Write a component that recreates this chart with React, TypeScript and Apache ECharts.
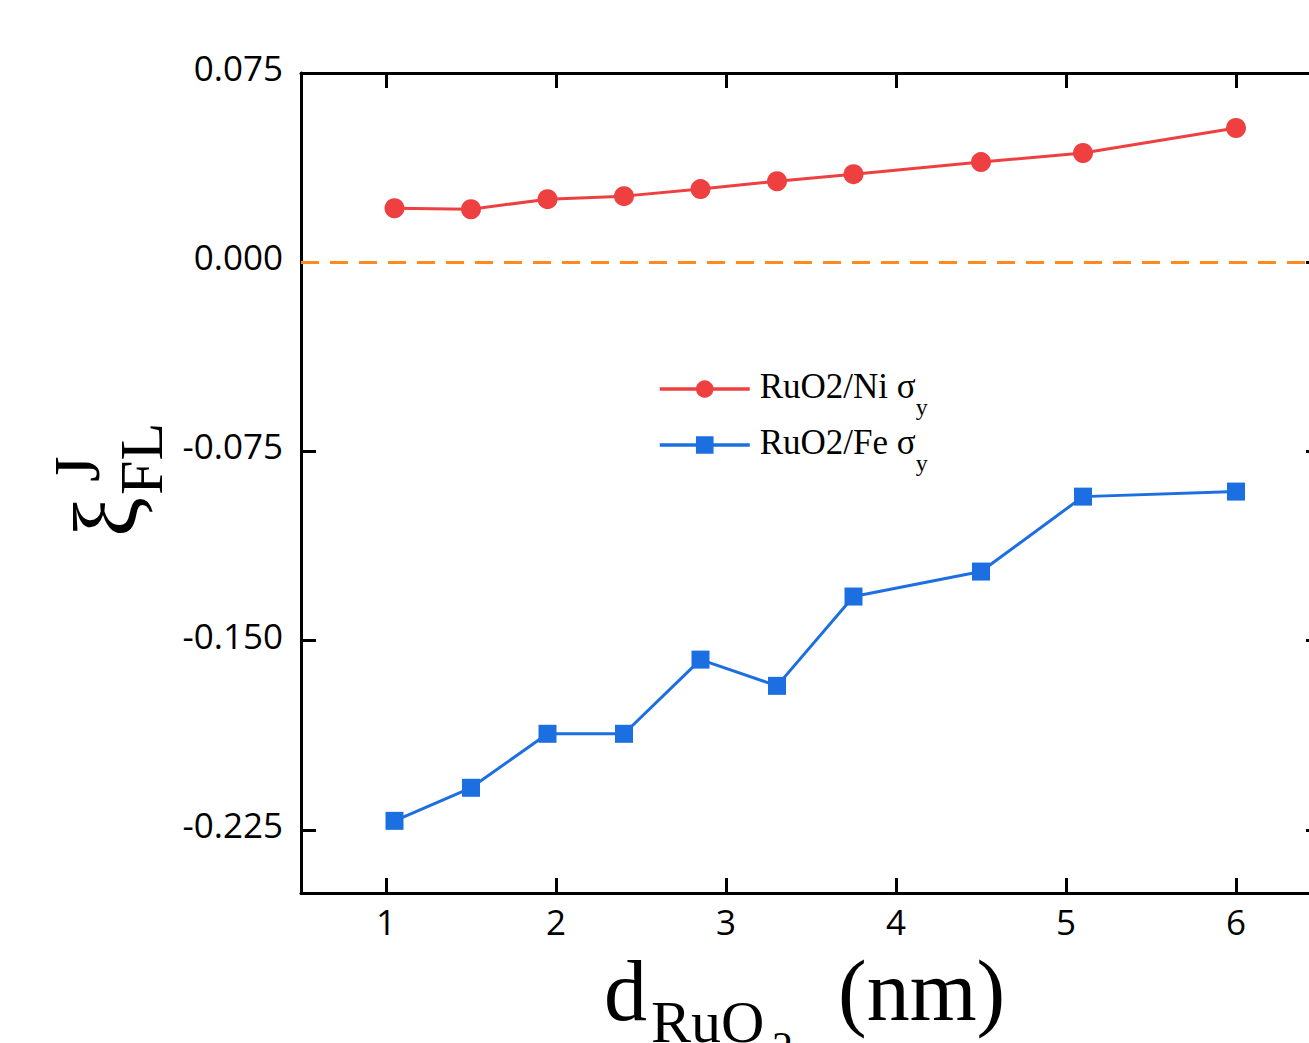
import React, { useEffect, useRef } from "react";
import * as echarts from "echarts";

// RuO2 thickness (nm) for each computed point
const thickness = [1.05, 1.5, 1.95, 2.4, 2.85, 3.3, 3.75, 4.5, 5.1, 6.0];
// Field-like torque efficiency, RuO2/Ni bilayer
const niValues = [0.0214, 0.021, 0.025, 0.0262, 0.029, 0.0321, 0.0349, 0.0397, 0.0433, 0.0532];
// Field-like torque efficiency, RuO2/Fe bilayer
const feValues = [-0.2214, -0.2083, -0.1869, -0.1869, -0.1575, -0.1679, -0.1325, -0.1226, -0.0929, -0.0909];

const seriesNames = ["RuO2/Ni", "RuO2/Fe"];
const xTicks = [1, 2, 3, 4, 5, 6];
const yTicks = [-0.225, -0.15, -0.075, 0, 0.075];

const RED = "#EE4040";
const BLUE = "#1C6FE0";
const ORANGE = "#FF8A1E";
const SERIF = "'Liberation Serif', 'Times New Roman', serif";
const SANS = "'Open Sans', 'Noto Sans', sans-serif";

// The plot frame runs a little past the right edge of the visible page,
// so the chart canvas is wider than the clipping box around it.
const VIEW_W = 1309;
const VIEW_H = 1043;
const CANVAS_W = 1340;

const axisLine = { show: true, onZero: false, lineStyle: { color: "#000", width: 3 } };
const tickStyle = { color: "#000", width: 3 };

function text(x: number, y: number, t: string, size: number) {
  return {
    type: "text",
    x,
    y,
    style: {
      text: t,
      font: `${size}px ${SERIF}`,
      fill: "#000",
      align: "left",
      verticalAlign: "middle",
    },
  };
}

export default function App() {
  const ref = useRef<HTMLDivElement>(null);

  useEffect(() => {
    if (!ref.current) return;
    const chart = echarts.init(ref.current, undefined, { renderer: "svg" });

    const option = {
      animation: false,
      backgroundColor: "#fff",
      grid: {
        left: 301,
        top: 73,
        width: 1020,
        bottom: 150,
        containLabel: false,
        outerBoundsMode: "none",
      },
      legend: {
        orient: "vertical",
        left: 653,
        top: 364,
        itemWidth: 90,
        itemHeight: 22,
        itemGap: 6,
        data: seriesNames,
        lineStyle: { width: 3.5 },
        formatter: (name: string) => `{a|${name} σ}{s|y}`,
        textStyle: {
          color: "#000",
          rich: {
            a: {
              fontFamily: SERIF,
              fontSize: 35,
              lineHeight: 40,
              verticalAlign: "top",
              color: "#000",
              padding: [0, 0, 0, 5],
            },
            s: {
              fontFamily: SERIF,
              fontSize: 24,
              lineHeight: 24,
              verticalAlign: "top",
              color: "#000",
              padding: [26, 0, 0, 0],
            },
          },
        },
      },
      xAxis: [
        {
          type: "value",
          min: 0.5,
          max: 6.5,
          position: "bottom",
          axisLine,
          axisTick: { show: true, inside: true, length: 15, lineStyle: tickStyle, customValues: xTicks },
          axisLabel: {
            show: true,
            customValues: xTicks,
            fontFamily: SANS,
            fontSize: 35,
            color: "#000",
            margin: 11,
          },
          splitLine: { show: false },
        },
        {
          type: "value",
          min: 0.5,
          max: 6.5,
          position: "top",
          axisLine,
          axisTick: { show: true, inside: true, length: 15, lineStyle: tickStyle, customValues: xTicks },
          axisLabel: { show: false },
          splitLine: { show: false },
        },
      ],
      yAxis: [
        {
          type: "value",
          min: -0.25,
          max: 0.075,
          position: "left",
          axisLine,
          axisTick: { show: true, inside: true, length: 15, lineStyle: tickStyle, customValues: yTicks },
          axisLabel: {
            show: true,
            customValues: yTicks,
            formatter: (v: number) => v.toFixed(3),
            fontFamily: SANS,
            fontSize: 35,
            color: "#000",
            margin: 18,
            verticalAlign: "bottom",
            lineHeight: 11,
          },
          splitLine: { show: false },
        },
        {
          type: "value",
          min: -0.25,
          max: 0.075,
          position: "right",
          axisLine,
          axisTick: { show: true, inside: true, length: 15, lineStyle: tickStyle, customValues: yTicks },
          axisLabel: { show: false },
          splitLine: { show: false },
        },
      ],
      series: [
        {
          name: seriesNames[0],
          type: "line",
          data: thickness.map((x, i) => [x, niValues[i]]),
          symbol: "circle",
          symbolSize: 20,
          itemStyle: { color: RED },
          lineStyle: { color: RED, width: 3 },
          z: 4,
          markLine: {
            silent: true,
            symbol: ["none", "none"],
            label: { show: false },
            lineStyle: { type: [18, 11], color: ORANGE, width: 3 },
            data: [{ yAxis: 0 }],
            z: 2,
          },
        },
        {
          name: seriesNames[1],
          type: "line",
          data: thickness.map((x, i) => [x, feValues[i]]),
          symbol: "rect",
          symbolSize: 18,
          itemStyle: { color: BLUE },
          lineStyle: { color: BLUE, width: 3 },
          z: 4,
        },
      ],
      graphic: [
        // y-axis title: ξ_FL^J, rotated to read bottom-to-top
        {
          type: "group",
          x: 0,
          y: 540,
          rotation: Math.PI / 2,
          children: [
            text(3, 106.6, "ξ", 90),
            text(45, 141.4, "FL", 62),
            text(58, 76.7, "J", 66),
          ],
        },
        // x-axis title: d_RuO2 (nm)
        text(604, 991, "d", 86),
        text(651, 1021.8, "RuO", 60),
        text(772, 1046.5, "2", 42),
        text(838, 991, "(nm)", 86),
      ],
    };

    chart.setOption(option as any);
    return () => chart.dispose();
  }, []);

  return (
    <div
      style={{
        position: "absolute",
        left: 0,
        top: 0,
        width: VIEW_W,
        height: VIEW_H,
        overflow: "hidden",
        background: "#fff",
      }}
    >
      <div ref={ref} style={{ width: CANVAS_W, height: VIEW_H }} />
    </div>
  );
}
